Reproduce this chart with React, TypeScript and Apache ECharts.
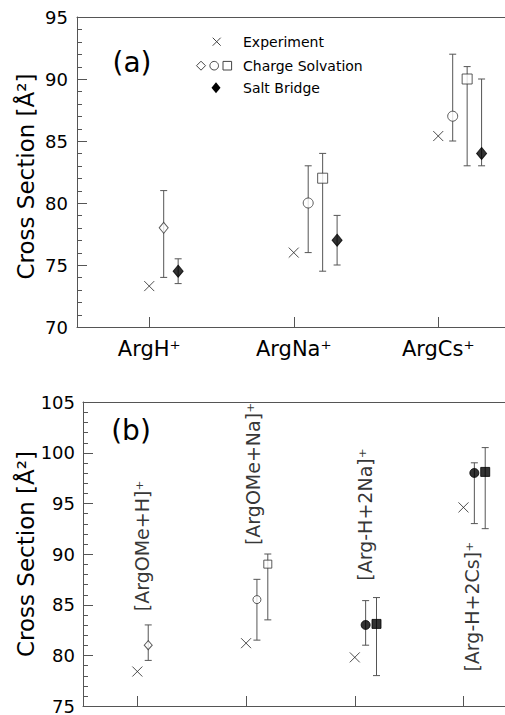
import React, { useEffect, useRef } from "react";
import * as echarts from "echarts";

// ---------------- data: panel (a) ----------------
const aCategories = ["ArgH⁺", "ArgNa⁺", "ArgCs⁺"];
const aExperiment = [73.3, 76.0, 85.4];
const aCsDiamond = [78.0, null, null];
const aCsDiamondErr = [[74.0, 81.0], null, null];
const aCsCircle = [null, 80.0, 87.0];
const aCsCircleErr = [null, [76.0, 83.0], [85.0, 92.0]];
const aCsSquare = [null, 82.0, 90.0];
const aCsSquareErr = [null, [74.5, 84.0], [83.0, 91.0]];
const aSaltBridge = [74.5, 77.0, 84.0];
const aSaltBridgeErr = [[73.5, 75.5], [75.0, 79.0], [83.0, 90.0]];
const aYRange = [70, 95];

// ---------------- data: panel (b) ----------------
const bCategories = ["[ArgOMe+H]⁺", "[ArgOMe+Na]⁺", "[Arg-H+2Na]⁺", "[Arg-H+2Cs]⁺"];
const bExperiment = [78.4, 81.2, 79.8, 94.6];
const bCsDiamond = [81.0, null, null, null];
const bCsDiamondErr = [[79.5, 83.0], null, null, null];
const bCsCircle = [null, 85.5, null, null];
const bCsCircleErr = [null, [81.5, 87.5], null, null];
const bCsSquare = [null, 89.0, null, null];
const bCsSquareErr = [null, [83.5, 90.0], null, null];
const bSbCircle = [null, null, 83.0, 98.0];
const bSbCircleErr = [null, null, [81.0, 85.4], [93.0, 99.0]];
const bSbSquare = [null, null, 83.1, 98.1];
const bSbSquareErr = [null, null, [78.0, 85.7], [92.5, 100.5]];
const bYRange = [75, 105];

const yTitle = "Cross Section [Å²]";

// ---------------- layout / style ----------------
const FONT = "DejaVu Sans";
const AXIS = "#555";
const ERR = "#555";
const STEP = 0.1; // horizontal offset between markers of one group
const A_X = [0.5, 3.462];
const B_X = [0.5, 4.382];
// rotated category labels of panel (b): anchor in data coordinates
const bLabelAnchors = [
  [1.045, 90.8],
  [2.064, 97.9],
  [3.094, 93.9],
  [4.079, 84.8],
];

const CROSS = "path://M0,0L10,10M10,0L0,10";

type Group = {
  values: (number | null)[];
  errs: (number[] | null)[];
  symbol: string;
  size: number | number[];
  filled: boolean;
};

function place(groups: Group[], n: number) {
  const counters = new Array(n).fill(0);
  return groups.map((g) => {
    const pts: number[][] = [];
    const errs: number[][] = [];
    g.values.forEach((v, i) => {
      if (v == null) return;
      counters[i] += 1;
      const x = i + 1 + STEP * counters[i];
      pts.push([x, v]);
      const e = g.errs[i];
      if (e) errs.push([x, e[0], e[1]]);
    });
    return { ...g, pts, errs };
  });
}

function errorSeries(data: number[][], idx: number) {
  return {
    type: "custom",
    xAxisIndex: idx,
    yAxisIndex: idx,
    z: 2,
    silent: true,
    data,
    encode: { x: 0, y: [1, 2] },
    renderItem: (params: any, api: any) => {
      const x = api.value(0);
      const p1 = api.coord([x, api.value(1)]);
      const p2 = api.coord([x, api.value(2)]);
      const w = 3.5;
      const st = { stroke: ERR, lineWidth: 1 };
      return {
        type: "group",
        children: [
          { type: "line", shape: { x1: p1[0], y1: p1[1], x2: p2[0], y2: p2[1] }, style: st },
          { type: "line", shape: { x1: p1[0] - w, y1: p1[1], x2: p1[0] + w, y2: p1[1] }, style: st },
          { type: "line", shape: { x1: p2[0] - w, y1: p2[1], x2: p2[0] + w, y2: p2[1] }, style: st },
        ],
      };
    },
  };
}

// inward ticks drawn through the axes' own scales
function yTickSeries(idx: number, xMin: number, range: number[]) {
  const data: number[][] = [];
  for (let v = range[0] + 1; v < range[1]; v++) data.push([xMin, v]);
  return {
    type: "custom",
    xAxisIndex: idx,
    yAxisIndex: idx,
    z: 5,
    silent: true,
    clip: false,
    data,
    encode: { x: 0, y: 1 },
    renderItem: (params: any, api: any) => {
      const v = api.value(1);
      const p = api.coord([api.value(0), v]);
      const len = Math.round(v) % 5 === 0 ? 10 : 5;
      const y = Math.round(p[1]) + 0.5;
      return {
        type: "line",
        shape: { x1: p[0], y1: y, x2: p[0] + len, y2: y },
        style: { stroke: AXIS, lineWidth: 1 },
      };
    },
  };
}

function xTickSeries(idx: number, yMin: number, n: number) {
  const data: number[][] = [];
  for (let k = 1; k <= n; k++) data.push([k, yMin]);
  return {
    type: "custom",
    xAxisIndex: idx,
    yAxisIndex: idx,
    z: 5,
    silent: true,
    clip: false,
    data,
    encode: { x: 0, y: 1 },
    renderItem: (params: any, api: any) => {
      const p = api.coord([api.value(0), api.value(1)]);
      const x = Math.round(p[0]) + 0.5;
      return {
        type: "line",
        shape: { x1: x, y1: p[1], x2: x, y2: p[1] - 10 },
        style: { stroke: AXIS, lineWidth: 1 },
      };
    },
  };
}

function markerSeries(g: any, idx: number) {
  return {
    type: "scatter",
    xAxisIndex: idx,
    yAxisIndex: idx,
    z: 3,
    silent: true,
    symbol: g.symbol,
    symbolSize: g.size,
    data: g.pts,
    itemStyle: g.filled
      ? { color: "#000", borderColor: "#000", borderWidth: 1 }
      : { color: "#fff", borderColor: "#333", borderWidth: 1 },
  };
}

function expSeries(values: number[], idx: number) {
  return {
    type: "scatter",
    xAxisIndex: idx,
    yAxisIndex: idx,
    z: 3,
    silent: true,
    symbol: CROSS,
    symbolSize: 10,
    data: values.map((v, i) => [i + 1, v]),
    itemStyle: { color: "transparent", borderColor: "#222", borderWidth: 1 },
  };
}

function yAxis(idx: number, range: number[], margin: number) {
  return {
    type: "value",
    gridIndex: idx,
    position: "left",
    min: range[0],
    max: range[1],
    interval: 5,
    axisLine: { show: true, onZero: false, lineStyle: { color: AXIS, width: 1 } },
    axisTick: { show: false },
    splitLine: { show: false },
    axisLabel: { color: "#000", fontSize: 18, fontFamily: FONT, margin },
  };
}

function topAxis(idx: number, r: number[]) {
  return {
    type: "value",
    gridIndex: idx,
    position: "top",
    min: r[0],
    max: r[1],
    axisLine: { show: true, onZero: false, lineStyle: { color: AXIS } },
    axisTick: { show: false },
    axisLabel: { show: false },
    splitLine: { show: false },
  };
}

export default function App() {
  const ref = useRef<HTMLDivElement>(null);
  useEffect(() => {
    if (!ref.current) return;
    const chart = echarts.init(ref.current, undefined, { renderer: "svg" });

    const aGroups = place(
      [
        { values: aCsDiamond, errs: aCsDiamondErr, symbol: "diamond", size: [9, 11], filled: false },
        { values: aCsCircle, errs: aCsCircleErr, symbol: "circle", size: 10, filled: false },
        { values: aCsSquare, errs: aCsSquareErr, symbol: "rect", size: 10, filled: false },
        { values: aSaltBridge, errs: aSaltBridgeErr, symbol: "diamond", size: [10, 12], filled: true },
      ],
      aCategories.length
    );
    const bGroups = place(
      [
        { values: bCsDiamond, errs: bCsDiamondErr, symbol: "diamond", size: [8, 9], filled: false },
        { values: bCsCircle, errs: bCsCircleErr, symbol: "circle", size: 8, filled: false },
        { values: bCsSquare, errs: bCsSquareErr, symbol: "rect", size: 8, filled: false },
        { values: bSbCircle, errs: bSbCircleErr, symbol: "circle", size: 9, filled: true },
        { values: bSbSquare, errs: bSbSquareErr, symbol: "rect", size: 9, filled: true },
      ],
      bCategories.length
    );

    const series: any[] = [];
    series.push(yTickSeries(0, A_X[0], aYRange));
    series.push(xTickSeries(0, aYRange[0], aCategories.length));
    series.push(yTickSeries(1, B_X[0], bYRange));
    series.push(xTickSeries(1, bYRange[0], bCategories.length));
    aGroups.forEach((g) => {
      series.push(errorSeries(g.errs, 0));
      series.push(markerSeries(g, 0));
    });
    series.push(expSeries(aExperiment, 0));
    bGroups.forEach((g) => {
      series.push(errorSeries(g.errs, 1));
      series.push(markerSeries(g, 1));
    });
    series.push(expSeries(bExperiment, 1));
    series.push({
      type: "scatter",
      xAxisIndex: 1,
      yAxisIndex: 1,
      z: 4,
      silent: true,
      symbolSize: 1,
      itemStyle: { color: "transparent" },
      data: bLabelAnchors.map((p, i) => ({ value: p, name: bCategories[i] })),
      label: {
        show: true,
        position: "inside",
        rotate: 90,
        formatter: (p: any) => p.name,
        color: "#000",
        fontSize: 19,
        fontFamily: FONT,
      },
    });

    const legendStroke = { stroke: "#444", lineWidth: 1, fill: "none" };
    const legendText = (x: number, y: number, text: string) => ({
      type: "text",
      x,
      y,
      style: { text, fill: "#000", font: `14px "${FONT}"`, align: "left", verticalAlign: "middle" },
    });

    chart.setOption({
      animation: false,
      textStyle: { fontFamily: FONT },
      grid: [
        { left: 77, top: 17, right: 0, height: 310 },
        { left: 83, top: 402, right: 0, height: 307.5 },
      ],
      xAxis: [
        {
          type: "value",
          gridIndex: 0,
          position: "bottom",
          min: A_X[0],
          max: A_X[1],
          axisLine: { show: true, onZero: false, lineStyle: { color: AXIS } },
          axisTick: { show: false },
          axisLabel: {
            show: true,
            customValues: [1, 2, 3],
            formatter: (v: number) => aCategories[Math.round(v) - 1] || "",
            color: "#000",
            fontSize: 21,
            fontFamily: FONT,
            margin: 11,
          },
          splitLine: { show: false },
        },
        {
          type: "value",
          gridIndex: 1,
          position: "bottom",
          min: B_X[0],
          max: B_X[1],
          axisLine: { show: true, onZero: false, lineStyle: { color: AXIS } },
          axisTick: { show: false },
          axisLabel: { show: false },
          splitLine: { show: false },
        },
        topAxis(0, A_X),
        topAxis(1, B_X),
      ],
      yAxis: [yAxis(0, aYRange, 9), yAxis(1, bYRange, 8)],
      graphic: [
        {
          type: "text",
          x: 26,
          y: 176.5,
          rotation: Math.PI / 2,
          style: { text: yTitle, fill: "#000", font: `23px "${FONT}"`, align: "center", verticalAlign: "middle" },
        },
        {
          type: "text",
          x: 26,
          y: 554,
          rotation: Math.PI / 2,
          style: { text: yTitle, fill: "#000", font: `23px "${FONT}"`, align: "center", verticalAlign: "middle" },
        },
        {
          type: "text",
          x: 132,
          y: 62.5,
          style: { text: "(a)", fill: "#000", font: `28px "${FONT}"`, align: "center", verticalAlign: "middle" },
        },
        {
          type: "text",
          x: 131,
          y: 430,
          style: { text: "(b)", fill: "#000", font: `28px "${FONT}"`, align: "center", verticalAlign: "middle" },
        },
        // legend markers
        { type: "line", shape: { x1: 212.7, y1: 37.7, x2: 220.7, y2: 45.7 }, style: legendStroke },
        { type: "line", shape: { x1: 220.7, y1: 37.7, x2: 212.7, y2: 45.7 }, style: legendStroke },
        { type: "polygon", shape: { points: [[201, 61.2], [205.5, 65.7], [201, 70.2], [196.5, 65.7]] }, style: legendStroke },
        { type: "circle", shape: { cx: 214.2, cy: 65.7, r: 4.3 }, style: legendStroke },
        { type: "rect", shape: { x: 223, y: 61.4, width: 8.6, height: 8.6 }, style: legendStroke },
        { type: "polygon", shape: { points: [[216, 82.2], [220.5, 87.7], [216, 93.2], [211.5, 87.7]] }, style: { fill: "#000" } },
        legendText(243, 41.7, "Experiment"),
        legendText(243, 65.7, "Charge Solvation"),
        legendText(243, 87.7, "Salt Bridge"),
      ],
      series,
    });
    return () => chart.dispose();
  }, []);
  return <div ref={ref} style={{ position: "absolute", left: 0, top: 0, width: 505, height: 715 }} />;
}
